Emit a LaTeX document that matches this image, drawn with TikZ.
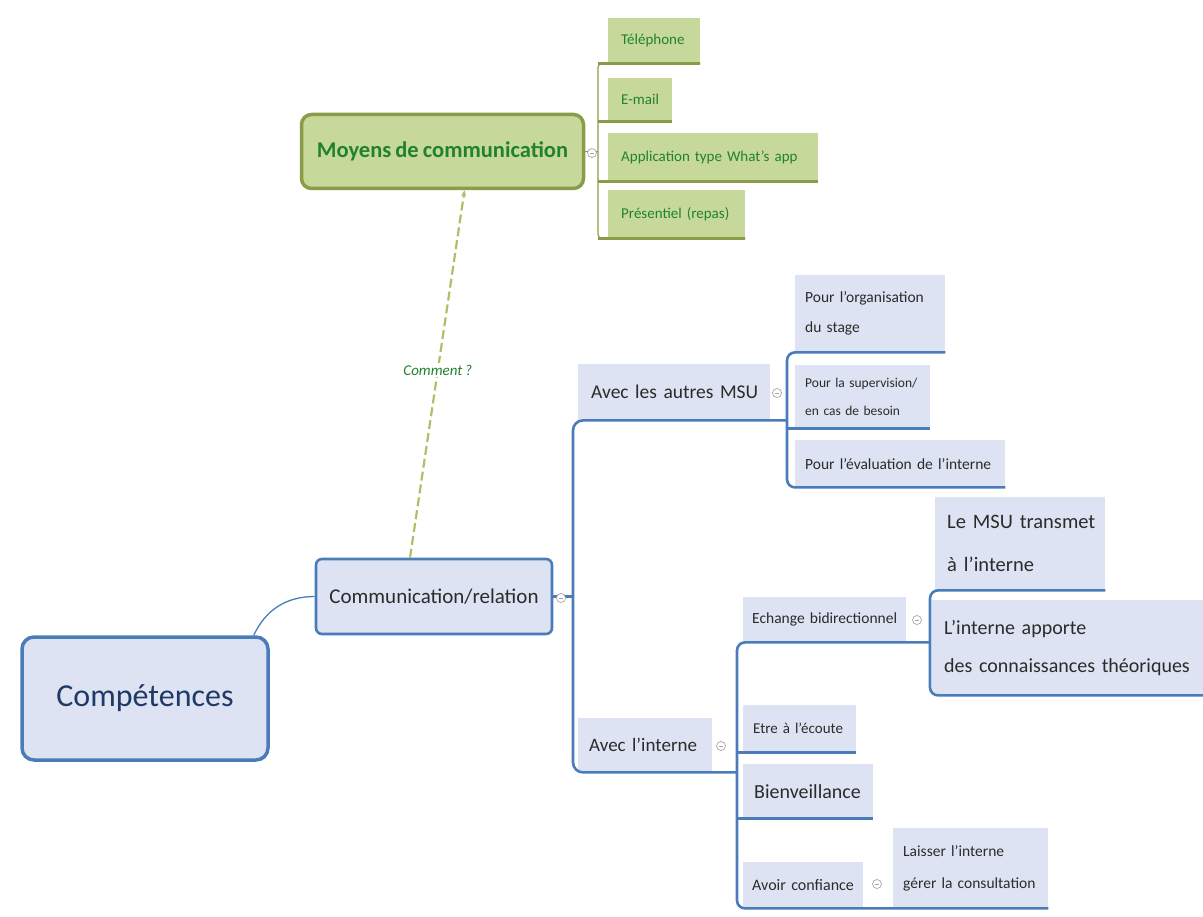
\documentclass[tikz,border=0pt]{standalone}
\usepackage{fontspec}
\setmainfont{Carlito}[WordSpace=0.8]
\usetikzlibrary{arrows.meta}
\definecolor{bfill}{HTML}{DDE3F2}
\definecolor{bline}{HTML}{4A7CBA}
\definecolor{gfill}{HTML}{C6D99B}
\definecolor{gline}{HTML}{8A9B4A}
\definecolor{gtext}{HTML}{21822E}
\definecolor{tdark}{HTML}{2B2B2B}
\definecolor{navy}{HTML}{1F3A66}
\definecolor{dashg}{HTML}{A9C268}
\newcommand\fs[2]{\fontsize{#1}{#2}\selectfont\hyphenpenalty=10000 \exhyphenpenalty=10000 }
\begin{document}
\begin{tikzpicture}[x=1pt,y=-1pt,
  bleaf/.style={anchor=north west, inner xsep=10pt, inner ysep=0pt, fill=bfill, align=left, text=tdark},
  gleaf/.style={anchor=north west, inner xsep=13pt, inner ysep=0pt, fill=gfill, align=left, text=gtext, font=\fs{15}{18}},
  blink/.style={draw=bline, line width=2.6pt},
  glink/.style={draw=gline, line width=1.2pt},
  gunder/.style={draw=gline, line width=2.6pt},
  collapse/.style={circle, draw=gray!70, fill=white, line width=0.7pt, minimum size=9pt, inner sep=0pt,
    path picture={\draw[gray!70, line width=0.7pt] ([xshift=-2.2pt]path picture bounding box.center) -- ([xshift=2.2pt]path picture bounding box.center);}},
]
\useasboundingbox (0,0) rectangle (1203,917);

% bracket positions
\coordinate (xM) at (598,0);
\coordinate (xC) at (573,0);
\coordinate (xA) at (787,0);
\coordinate (xI) at (737,0);
\coordinate (xE) at (930,0);

% main topics
\node[draw=bline, line width=3.5pt, fill=bfill, rounded corners=12pt, minimum width=246pt, minimum height=123pt,
      text=navy, font=\fs{32}{38}] (comp) at (145,698.5) {Compétences};
\node[draw=bline, line width=2.6pt, fill=bfill, rounded corners=6pt, minimum width=236pt, minimum height=75pt,
      text=tdark, font=\fs{21}{25}] (comm) at (434,596.5) {Communication/relation};
\node[draw=gline, line width=3.5pt, fill=gfill, rounded corners=10pt, minimum width=282pt, minimum height=74pt,
      text=gtext, font=\bfseries\fs{22.5}{26}] (moy) at (442.5,151.5) {Moyens de communication};

% communication means
\node[gleaf, text width=66pt, minimum height=45pt] (tel) at (608,18) {Téléphone};
\node[gleaf, text width=38pt, minimum height=43pt] (email) at (608,78) {E-mail};
\node[gleaf, text width=184pt, minimum height=48pt] (app) at (608,133) {Application~type~What's~app};
\node[gleaf, text width=111pt, minimum height=48pt] (pres) at (608,190) {Présentiel~(repas)};

% second level
\node[bleaf, inner xsep=13pt, text width=166pt, minimum height=56pt, font=\fs{19.5}{23}] (autres) at (578,364) {Avec~les~autres~MSU};
\node[bleaf, inner xsep=11pt, text width=112pt, minimum height=54pt, font=\fs{19}{23}] (interne) at (578,718) {Avec~l'interne};

% with the other MSU
\node[bleaf, text width=130pt, minimum height=77pt, font=\fs{15.5}{30}] (org) at (795,275) {Pour~l'organisation\\du~stage};
\node[bleaf, text width=115pt, minimum height=63pt, font=\fs{13.5}{28}] (sup) at (795,365) {Pour~la~supervision/\\en~cas~de~besoin};
\node[bleaf, text width=190pt, minimum height=47pt, font=\fs{15.5}{18}] (eval) at (795,440) {Pour~l'évaluation~de~l'interne};

% with the intern
\node[bleaf, inner xsep=9pt, text width=145pt, minimum height=45pt, font=\fs{15.5}{18}] (ech) at (743,597) {Echange~bidirectionnel};
\node[bleaf, inner xsep=12pt, text width=146pt, minimum height=93pt, font=\fs{20.5}{43}] (msu) at (935,497) {Le~MSU~transmet\\à~l'interne};
\node[bleaf, inner xsep=12pt, text width=247pt, minimum height=95pt, font=\fs{20}{38}] (lint) at (932,600) {L'interne~apporte\\des~connaissances~théoriques};
\node[bleaf, text width=93pt, minimum height=47pt, font=\fs{15}{18}] (etre) at (743,705) {Etre~à~l'écoute};
\node[bleaf, inner xsep=11pt, text width=108pt, minimum height=54pt, font=\fs{20}{24}] (bien) at (743,764) {Bienveillance};
\node[bleaf, inner xsep=9pt, text width=102pt, minimum height=46pt, font=\fs{16}{19}] (avoir) at (743,862) {Avoir~confiance};
\node[bleaf, text width=135pt, minimum height=80pt, font=\fs{15.5}{32}] (laisser) at (893,828) {Laisser~l'interne\\gérer~la~consultation};

% links between topics
\draw[draw=bline, line width=1.3pt] ([xshift=-16pt]comp.north east) to[out=65,in=180] (comm.west);
\draw[dashg, line width=2.2pt, dash pattern=on 9pt off 4pt, -{Stealth[length=6pt,width=5pt]}]
  ([xshift=-24pt]comm.north) -- node[pos=0.51, fill=white, inner sep=2pt, text=gtext, font=\itshape\fs{15}{18}] (ask) {Comment ?}
  ([xshift=22pt]moy.south);

% green branch
\draw[glink, rounded corners=4pt] (tel.south east) -- (xM |- tel.south) -- (xM |- pres.south) -- (pres.south east);
\draw[glink] (moy.east) -- (xM |- moy.east);
\draw[gunder] (xM |- tel.south) -- (tel.south east);
\draw[gunder] (xM |- email.south) -- (email.south east);
\draw[gunder] (xM |- app.south) -- (app.south east);
\draw[gunder] (xM |- pres.south) -- (pres.south east);

% blue branches
\draw[blink] (comm.east) -- (xC |- comm.east);
\draw[blink, rounded corners=10pt] (xA |- autres.south) -- (xC |- autres.south) -- (xC |- interne.south) -- (xI |- interne.south);
\draw[blink, rounded corners=8pt] (org.south east) -- (xA |- org.south) -- (xA |- eval.south) -- (eval.south east);
\draw[blink] (xA |- sup.south) -- (sup.south east);
\draw[blink, rounded corners=8pt] (xE |- ech.south) -- (xI |- ech.south) -- (xI |- avoir.south) -- (laisser.south east);
\draw[blink] (xI |- etre.south) -- (etre.south east);
\draw[blink] (xI |- bien.south) -- (bien.south east);
\draw[blink, rounded corners=8pt] (msu.south east) -- (xE |- msu.south) -- (xE |- lint.south) -- (lint.south east);

% collapse markers
\node[collapse] (cm) at (592,153) {};
\node[collapse] (cc) at (561,598) {};
\node[collapse] (ca) at (777,393) {};
\node[collapse] (ci) at (721,746) {};
\node[collapse] (ce) at (917,620) {};
\node[collapse] (cv) at (877,884) {};
\end{tikzpicture}
\end{document}
